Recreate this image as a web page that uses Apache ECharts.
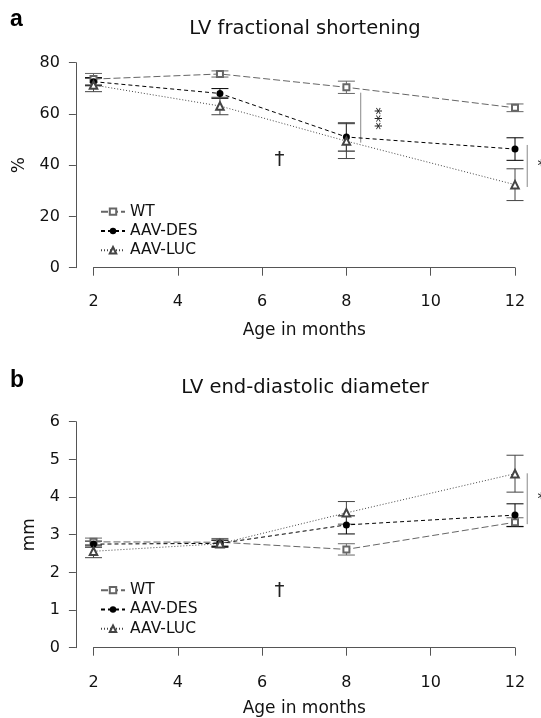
<!DOCTYPE html>
<html>
<head>
<meta charset="utf-8">
<script src="https://cdn.jsdelivr.net/npm/echarts@6/dist/echarts.min.js"></script>
<style>
  html, body { margin: 0; padding: 0; background: #fff; }
  #main { width: 541px; height: 718px; }
</style>
</head>
<body>
<div id="main"></div>
<script>
// ages at which echo was done
const months = [2, 5, 8, 12];

// LV fractional shortening (%), mean and error
const fsWT = [73.6, 75.6, 70.4, 62.4];
const fsWTerr = [2.2, 1.2, 2.4, 1.5];
const fsDES = [72.6, 68.0, 51.0, 46.3];
const fsDESerr = [1.6, 1.9, 5.5, 4.4];
const fsLUC = [71.3, 63.1, 49.4, 32.4];
const fsLUCerr = [2.6, 3.4, 6.8, 6.2];

// LV end-diastolic diameter (mm), mean and error
const edWT = [2.81, 2.80, 2.61, 3.33];
const edWTerr = [0.10, 0.10, 0.15, 0.12];
const edDES = [2.75, 2.77, 3.26, 3.52];
const edDESerr = [0.08, 0.08, 0.24, 0.30];
const edLUC = [2.56, 2.76, 3.58, 4.62];
const edLUCerr = [0.17, 0.10, 0.30, 0.49];

// significance marks, in data units: [x, y, text]
const fsNotes = [[6.41, 42.0, '†'], [8.66, 58.2, '***'], [12.62, 39.4, '*']];
const fsBrackets = [[8.34, 48.8, 68.3], [12.29, 31.5, 47.9]];
const edNotes = [[6.41, 1.5, '†'], [12.62, 3.92, '*']];
const edBrackets = [[12.29, 3.28, 4.63]];

const groups = ['WT', 'AAV-DES', 'AAV-LUC'];

const FONT = 'DejaVu Sans';
const AXIS = '#555';

const look = {
  'WT': { color: '#666', symbol: 'emptyRect', size: 6, dash: [7, 3] },
  'AAV-DES': { color: '#000', symbol: 'circle', size: 7, dash: [4, 3] },
  'AAV-LUC': { color: '#444', symbol: 'emptyTriangle', size: 7.5, dash: [1, 2] }
};

function pairs(vals) {
  return months.map((m, i) => [m, vals[i]]);
}

function lineSeries(name, vals, idx) {
  const s = look[name];
  return {
    name: name, type: 'line', xAxisIndex: idx, yAxisIndex: idx,
    data: pairs(vals),
    symbol: s.symbol, symbolSize: s.size, showAllSymbol: true,
    itemStyle: { color: s.color, borderWidth: 1 },
    lineStyle: { color: s.color, width: 1, type: s.dash },
    emphasis: { disabled: true }, animation: false, z: 4
  };
}

function errSeries(name, vals, errs, idx) {
  const col = look[name].color;
  return {
    type: 'custom', xAxisIndex: idx, yAxisIndex: idx, silent: true, animation: false, z: 3,
    data: months.map((m, i) => [m, vals[i] - errs[i], vals[i] + errs[i]]),
    encode: { x: 0, y: [1, 2] },
    renderItem: function (params, api) {
      const lo = api.coord([api.value(0), api.value(1)]);
      const hi = api.coord([api.value(0), api.value(2)]);
      const w = 8.5;
      const st = { stroke: col, lineWidth: 1 };
      return {
        type: 'group', children: [
          { type: 'line', shape: { x1: lo[0], y1: lo[1], x2: hi[0], y2: hi[1] }, style: st },
          { type: 'line', shape: { x1: lo[0] - w, y1: lo[1], x2: lo[0] + w, y2: lo[1] }, style: st },
          { type: 'line', shape: { x1: hi[0] - w, y1: hi[1], x2: hi[0] + w, y2: hi[1] }, style: st }
        ]
      };
    }
  };
}

function bracketSeries(data, idx) {
  return {
    type: 'custom', xAxisIndex: idx, yAxisIndex: idx, silent: true, animation: false, clip: false,
    data: data, encode: { x: 0, y: [1, 2] },
    renderItem: function (params, api) {
      const a = api.coord([api.value(0), api.value(1)]);
      const b = api.coord([api.value(0), api.value(2)]);
      return { type: 'line', shape: { x1: a[0], y1: a[1], x2: b[0], y2: b[1] }, style: { stroke: '#888', lineWidth: 1 } };
    }
  };
}

function noteSeries(data, idx) {
  return {
    type: 'custom', xAxisIndex: idx, yAxisIndex: idx, silent: true, animation: false, clip: false,
    data: data, encode: { x: 0, y: 1 },
    renderItem: function (params, api) {
      const p = api.coord([api.value(0), api.value(1)]);
      const txt = data[params.dataIndex][2];
      const isDagger = txt === '†';
      return {
        type: 'text', x: p[0], y: p[1],
        rotation: txt === '***' ? -Math.PI / 2 : 0,
        style: {
          text: txt, fill: '#222', font: (isDagger ? 20 : 15) + 'px "' + FONT + '"',
          align: 'center', verticalAlign: 'middle'
        }
      };
    }
  };
}

function xAxis(idx, offset) {
  return {
    type: 'value', gridIndex: idx, min: 2, max: 12, interval: 2, offset: offset,
    name: 'Age in months', nameLocation: 'middle', nameGap: offset === 9 ? 45 : 42,
    nameTextStyle: { fontFamily: FONT, fontSize: 17, color: '#111' },
    axisLine: { show: true, lineStyle: { color: AXIS, width: 1 } },
    axisTick: { show: true, length: 8, lineStyle: { color: AXIS } },
    axisLabel: { margin: 17, fontFamily: FONT, fontSize: 16, color: '#111' },
    splitLine: { show: false }
  };
}

function yAxis(idx, max, interval, name, gap) {
  return {
    type: 'value', gridIndex: idx, min: 0, max: max, interval: interval, offset: 17.6,
    name: name, nameLocation: 'middle', nameGap: gap, nameRotate: 90,
    nameTextStyle: { fontFamily: FONT, fontSize: 17, color: '#111' },
    axisLine: { show: true, lineStyle: { color: AXIS, width: 1 } },
    axisTick: { show: true, length: 7, lineStyle: { color: AXIS } },
    axisLabel: { margin: 16, fontFamily: FONT, fontSize: 16, color: '#111' },
    splitLine: { show: false }
  };
}

function legend(top) {
  return {
    data: groups, orient: 'vertical', left: 100, top: top, padding: 0,
    itemWidth: 24, itemHeight: 8, itemGap: 0, selectedMode: false,
    textStyle: { fontFamily: FONT, fontSize: 15.5, color: '#111', lineHeight: 19.3 }
  };
}

const chart = echarts.init(document.getElementById('main'), null, { renderer: 'canvas' });

chart.setOption({
  backgroundColor: '#fff',
  animation: false,
  title: [
    { text: 'a', left: 10, top: 8, padding: 0, textStyle: { fontFamily: 'Liberation Sans', fontSize: 23, fontWeight: 'bold', color: '#000' } },
    { text: 'LV fractional shortening', left: 305, top: 18.5, padding: 0, textAlign: 'center', textStyle: { fontFamily: FONT, fontSize: 19.5, fontWeight: 'normal', color: '#111' } },
    { text: 'b', left: 10, top: 369, padding: 0, textStyle: { fontFamily: 'Liberation Sans', fontSize: 23, fontWeight: 'bold', color: '#000' } },
    { text: 'LV end-diastolic diameter', left: 305, top: 377.5, padding: 0, textAlign: 'center', textStyle: { fontFamily: FONT, fontSize: 19.5, fontWeight: 'normal', color: '#111' } }
  ],
  legend: [legend(202), legend(580.5)],
  grid: [
    { left: 93.5, width: 421.5, top: 62.7, height: 205 },
    { left: 93.5, width: 421.5, top: 421.7, height: 226 }
  ],
  xAxis: [xAxis(0, 9), xAxis(1, 10)],
  yAxis: [yAxis(0, 80, 20, '%', 48), yAxis(1, 6, 1, 'mm', 38)],
  series: [
    errSeries('WT', fsWT, fsWTerr, 0),
    errSeries('AAV-DES', fsDES, fsDESerr, 0),
    errSeries('AAV-LUC', fsLUC, fsLUCerr, 0),
    lineSeries('WT', fsWT, 0),
    lineSeries('AAV-DES', fsDES, 0),
    lineSeries('AAV-LUC', fsLUC, 0),
    bracketSeries(fsBrackets, 0),
    noteSeries(fsNotes, 0),
    errSeries('WT', edWT, edWTerr, 1),
    errSeries('AAV-DES', edDES, edDESerr, 1),
    errSeries('AAV-LUC', edLUC, edLUCerr, 1),
    lineSeries('WT', edWT, 1),
    lineSeries('AAV-DES', edDES, 1),
    lineSeries('AAV-LUC', edLUC, 1),
    bracketSeries(edBrackets, 1),
    noteSeries(edNotes, 1)
  ]
});
</script>
</body>
</html>
